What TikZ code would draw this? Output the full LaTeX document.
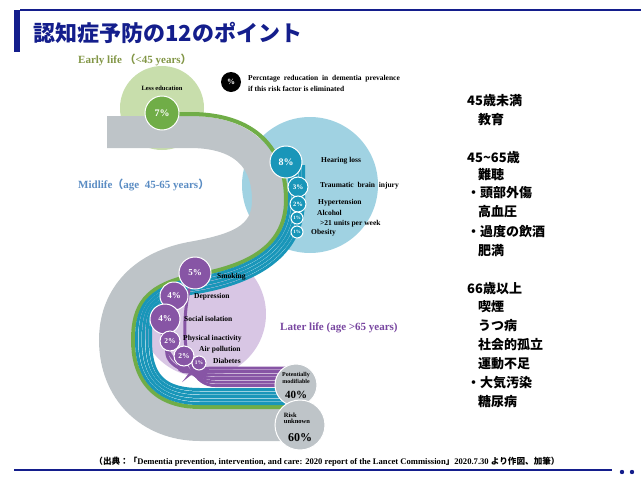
\documentclass[tikz,border=0pt]{standalone}
\usepackage{fontspec}
\setmainfont{Liberation Serif}
\newfontfamily\cjk{Noto Sans CJK JP}
\definecolor{gband}{RGB}{190,196,200}
\definecolor{lgreen}{RGB}{200,222,172}
\definecolor{dgreen}{RGB}{112,173,71}
\definecolor{lblue}{RGB}{160,210,226}
\definecolor{teal1}{RGB}{25,150,185}
\definecolor{lpurp}{RGB}{216,198,228}
\definecolor{purp}{RGB}{135,85,165}
\definecolor{navy}{RGB}{20,30,140}
\definecolor{olive}{RGB}{130,150,70}
\definecolor{midb}{RGB}{90,140,195}
\definecolor{later}{RGB}{120,70,160}
\newcommand\bandA[1]{({268+#1},200) .. controls ({268+#1},{240+0.6*#1}) and ({235+0.3*#1},{250+#1}) .. (190,{258+#1}) .. controls ({140+0.3*#1},{268+#1}) and ({115+#1},{300+0.3*#1}) .. ({115+#1},340) .. controls ({115+#1},{390-0.4*#1}) and ({150+0.4*#1},{425-#1}) .. (200,{425-#1}) -- (292,{425-#1})}
\begin{document}
\begin{tikzpicture}[x=1pt,y=-1pt,
  bt/.style={font=\bfseries\fontsize{7.5}{8}\selectfont,anchor=west,inner sep=0},
  pc/.style={circle,draw=white,line width=1pt,text=white,font=\bfseries\fontsize{#1}{#1}\selectfont,inner sep=0},
  jp/.style={font=\cjk\bfseries\fontsize{13}{14}\selectfont,anchor=west,inner sep=0}]
\useasboundingbox (0,0) rectangle (641,480);
% title
\fill[navy] (14,10) rectangle (20,52);
\draw[navy,line width=1.2pt] (20,10) -- (641,10);
\node[anchor=west,text=navy,font=\cjk\bfseries\fontsize{22}{24}\selectfont] (title) at (30,33) {認知症予防の12のポイント};
% big circles
\node[circle,fill=lgreen,minimum size=84pt,inner sep=0] (cE) at (162,108) {};
\node[circle,fill=lblue,minimum size=136pt,inner sep=0] (cM) at (310,185) {};
\node[circle,fill=lpurp,minimum size=126pt,inner sep=0] (cL) at (203,314) {};
% gray band
\draw[gband,line width=32pt] (107,132) -- (190,132) .. controls (245,132) and (268,160) .. (268,200) .. controls (268,240) and (235,250) .. (190,258) .. controls (140,268) and (115,300) .. (115,340) .. controls (115,390) and (150,425) .. (200,425) -- (300,425);
% green strand
\draw[dgreen,line width=4pt] (162,114) -- (190,114) .. controls ({245+0.6*18},114) and (286,{160-0.6*18}) .. \bandA{18};
% teal strands
\foreach \d in {21.5,25,28.5,32,35.5}{
  \draw[teal1,line width=3pt] ({268+\d},165) -- \bandA{\d};}
% purple strands
\foreach \cx/\cy/\d in {195/273/39.5,174/296/43,165/319/46.5,170/341/50,184/356/53.5,199/363/57}{
  \draw[purp,line width=3pt] (\cx,\cy) .. controls ({\cx-12},{\cy+20}) and ({150+0.6*\d},{425-\d}) .. (215,{425-\d}) -- (292,{425-\d});}
% early life
\node[font=\bfseries\fontsize{6.5}{7}\selectfont] (le) at (162,88) {Less education};
\node[pc=10,fill=dgreen,minimum size=34pt] (p7) at (162,113) {7\%};
% midlife circles
\node[pc=10,fill=teal1,minimum size=32pt] (p8) at (286,162) {8\%};
\node[pc=7,fill=teal1,minimum size=20pt] (p3) at (298,187) {3\%};
\node[pc=6.5,fill=teal1,minimum size=16pt] (p2) at (298,204) {2\%};
\node[pc=5,fill=teal1,minimum size=12pt] (p1a) at (297,218) {1\%};
\node[pc=5,fill=teal1,minimum size=12pt] (p1b) at (297,232) {1\%};
\node[bt] (l8) at (321,161) {Hearing loss};
\node[bt] (l3) at (320,186) {Traumatic\ \ brain\ \ injury};
\node[bt] (l2) at (318,203) {Hypertension};
\node[bt] (l1a) at (317,213) {Alcohol};
\node[bt] (l1a2) at (320,224) {>21 units per week};
\node[bt] (l1b) at (311,233) {Obesity};
% later life circles
\node[pc=9,fill=purp,minimum size=32pt] (q5) at (195,273) {5\%};
\node[pc=9,fill=purp,minimum size=28pt] (q4a) at (174,296) {4\%};
\node[pc=9,fill=purp,minimum size=30pt] (q4b) at (165,319) {4\%};
\node[pc=7.5,fill=purp,minimum size=20pt] (q2a) at (170,341) {2\%};
\node[pc=7.5,fill=purp,minimum size=20pt] (q2b) at (184,356) {2\%};
\node[pc=5.5,fill=purp,minimum size=14pt] (q1) at (199,363) {1\%};
\node[bt] (m5) at (217,277) {Smoking};
\node[bt] (m4a) at (194,297) {Depression};
\node[bt] (m4b) at (184,319) {Social isolation};
\node[bt] (m2a) at (183,339) {Physical inactivity};
\node[bt] (m2b) at (199,350) {Air pollution};
\node[bt] (m1) at (213,361) {Diabetes};
% end circles
\node[circle,fill=gband,draw=white,line width=1pt,minimum size=42pt,inner sep=0] (pm) at (296,385) {};
\node[font=\bfseries\fontsize{6}{5.5}\selectfont,align=center] (pmt) at (296,378) {Potentially\\modifiable};
\node[font=\bfseries\fontsize{11}{11}\selectfont] (pmn) at (296,395) {40\%};
\node[circle,fill=gband,draw=white,line width=1pt,minimum size=50pt,inner sep=0] (ru) at (300,425) {};
\node[font=\bfseries\fontsize{6.5}{6}\selectfont,align=left] (rut) at (297,418) {Risk\\unknown};
\node[font=\bfseries\fontsize{12}{12}\selectfont] (run) at (300,438) {60\%};
% legend
\node[circle,fill=black,minimum size=20pt,inner sep=0,text=white,font=\bfseries\fontsize{8}{8}\selectfont] (leg) at (231,82) {\%};
\node[anchor=west,align=left,font=\bfseries\fontsize{7.5}{11}\selectfont,inner sep=0] (legt) at (248,83) {Percntage\ \ reducation\ \ in\ \ dementia\ \ prevalence\\if this risk factor is eliminated};
% stage labels
\node[anchor=west,text=olive,font=\bfseries\fontsize{11}{12}\selectfont,inner sep=0] (se) at (78,60) {Early life\ {\cjk（}<45 years{\cjk）}};
\node[anchor=west,text=midb,font=\bfseries\fontsize{11}{12}\selectfont,inner sep=0] (sm) at (78,185) {Midlife{\cjk（}age\ \ 45-65 years{\cjk）}};
\node[anchor=west,text=later,font=\bfseries\fontsize{11}{12}\selectfont,inner sep=0] (sl) at (280,328) {Later life (age >65 years)};
% right column
\foreach \t/\x/\y [count=\i] in {45歳未満/467/101,教育/478/120,45\textasciitilde 65歳/467/158,難聴/478/175,・頭部外傷/467/193,高血圧/478/212,・過度の飲酒/467/232,肥満/478/251,66歳以上/467/289,喫煙/478/307,うつ病/478/326,社会的孤立/478/345,運動不足/478/364,・大気汚染/467/383,糖尿病/478/402}
  \node[jp] (r\i) at (\x,\y) {\t};
% footer
\node[font=\bfseries\fontsize{8.6}{9}\selectfont,inner sep=0] (foot) at (327,462) {{\cjk（出典：「}Dementia prevention,\ intervention,\ and care: 2020 report\ of the Lancet Commission{\cjk」}2020.7.30\ {\cjk より作図、加筆）}};
\draw[navy,line width=1.2pt] (14,470) -- (612,470);
\fill[navy] (622,472) circle (2.2) (632,472) circle (2.2);
\end{tikzpicture}
\end{document}
